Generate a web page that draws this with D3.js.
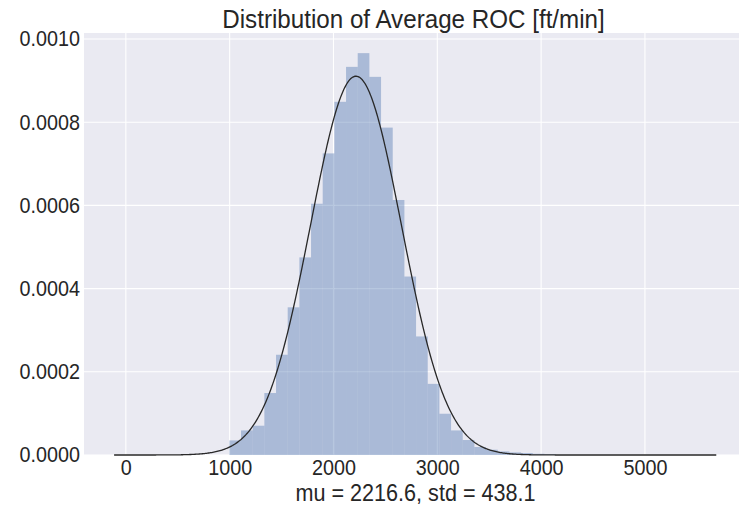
<!DOCTYPE html>
<html>
<head>
<meta charset="utf-8">
<script src="https://cdn.jsdelivr.net/npm/d3@7"></script>
<style>
  body { margin: 0; background: #fff; }
  svg { display: block; font-family: "Liberation Sans", Arial, sans-serif; }
</style>
</head>
<body>
<div id="chart"></div>
<script>
// histogram bins (left edges, ft/min) and densities
const binEdges = [997, 1109.4, 1221.8, 1334.2, 1446.6, 1559, 1671.4, 1783.8, 1896.2, 2008.6,
                  2121, 2233.4, 2345.8, 2458.2, 2570.6, 2683, 2795.4, 2907.8, 3020.2, 3132.6,
                  3245, 3357.4, 3469.8, 3582.2, 3694.6, 3807, 3919.4, 4031.8, 4144.2]
const densities = [0.0000351, 0.0000591, 0.0000704, 0.000149, 0.000241, 0.000355, 0.000475, 0.000604,
                   0.000725, 0.000849, 0.000933, 0.000966, 0.000909, 0.000787, 0.000613, 0.000429,
                   0.000285, 0.000171, 0.0000992, 0.0000591, 0.000036, 0.0000192, 0.0000127,
                   0.0000086, 0.0000062, 0.0000048, 0.0000029, 0.0000019]
// normal fit shown in the x label
const mu = 2216.6
const std = 438.1
const fitRange = [-113, 5693]
const xTicks = [0, 1000, 2000, 3000, 4000, 5000]
const yTicks = [0, 0.0002, 0.0004, 0.0006, 0.0008, 0.0010]
const title = "Distribution of Average ROC [ft/min]"
const xLabel = "mu = " + mu.toFixed(1) + ", std = " + std.toFixed(1)

const W = 739, H = 507
const squeeze = 0.92
const fs = 21.5

const svg = d3.select("#chart").append("svg")
    .attr("width", W)
    .attr("height", H)

const x = d3.scaleLinear().domain([-403, 5983]).range([84, 747])
const y = d3.scaleLinear().domain([0, 0.0010144]).range([455, 33])

svg.append("rect")
    .attr("x", x.range()[0])
    .attr("y", y.range()[1])
    .attr("width", x.range()[1] - x.range()[0])
    .attr("height", y.range()[0] - y.range()[1])
    .style("fill", "#eaeaf2")

// grid
svg.append("g").selectAll("line")
    .data(xTicks).enter()
    .append("line")
    .attr("x1", d => x(d)).attr("x2", d => x(d))
    .attr("y1", y.range()[1]).attr("y2", y.range()[0])
    .style("stroke", "#fff").style("stroke-width", 1.1)
svg.append("g").selectAll("line")
    .data(yTicks).enter()
    .append("line")
    .attr("x1", x.range()[0]).attr("x2", x.range()[1])
    .attr("y1", d => y(d)).attr("y2", d => y(d))
    .style("stroke", "#fff").style("stroke-width", 1.1)

// bars
const bw = binEdges[1] - binEdges[0]
svg.append("g").selectAll("rect")
    .data(densities).enter()
    .append("rect")
    .attr("x", (d, i) => x(binEdges[i]))
    .attr("width", (d, i) => x(binEdges[i] + bw) - x(binEdges[i]))
    .attr("y", d => y(d))
    .attr("height", d => y(0) - y(d))
    .style("fill", "#4c72b0")
    .style("fill-opacity", 0.4)

// fitted normal
const pdf = v => Math.exp(-0.5 * ((v - mu) / std) ** 2) / (std * Math.sqrt(2 * Math.PI))
const fitX = d3.range(fitRange[0], fitRange[1] + 1, 10)
svg.append("path")
    .datum(fitX)
    .attr("d", d3.line().x(d => x(d)).y(d => y(pdf(d))))
    .style("fill", "none")
    .style("stroke", "#282828")
    .style("stroke-width", 1.3)

// axes
svg.append("g")
    .attr("transform", "translate(" + x.range()[0] + ",0)")
    .call(d3.axisLeft(y).tickValues(yTicks).tickSize(0).tickPadding(4.4).tickFormat(d3.format(".4f")))
svg.append("g")
    .attr("transform", "translate(0," + y.range()[0] + ")")
    .call(d3.axisBottom(x).tickValues(xTicks).tickSize(0).tickPadding(5).tickFormat(d3.format("d")))

svg.selectAll(".domain").remove()
svg.selectAll(".tick text")
    .attr("transform", "scale(" + squeeze + ",1)")
    .style("font-size", fs + "px")
    .style("font-family", "'Liberation Sans', Arial, sans-serif")
    .style("fill", "#262626")

const cx = (x.range()[0] + x.range()[1]) / 2

svg.append("text")
    .attr("transform", "translate(" + (cx - 2) + ",28) scale(" + squeeze + ",1)")
    .attr("text-anchor", "middle")
    .style("font-size", "26.3px")
    .style("fill", "#262626")
    .text(title)

svg.append("text")
    .attr("transform", "translate(" + cx + ",501) scale(" + squeeze + ",1)")
    .attr("text-anchor", "middle")
    .style("font-size", "23.5px")
    .style("fill", "#262626")
    .text(xLabel)
</script>
</body>
</html>
